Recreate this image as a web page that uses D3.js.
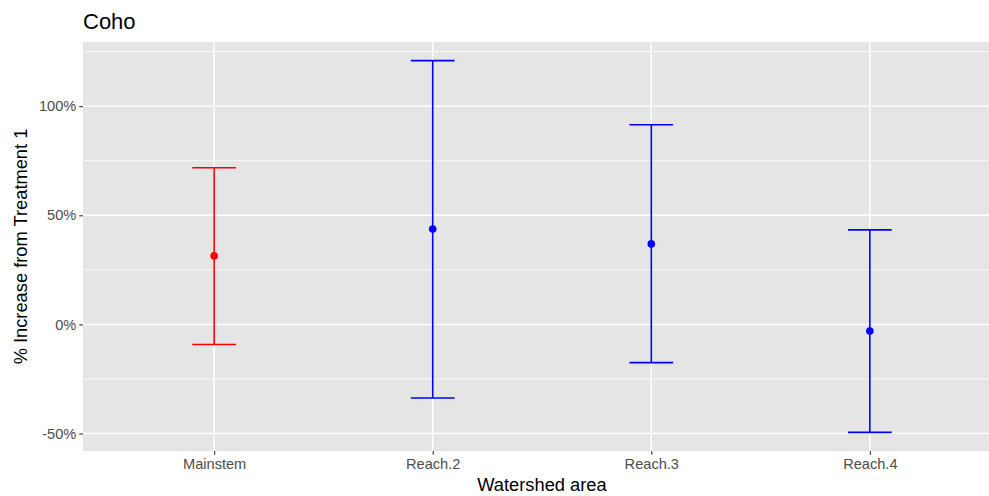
<!DOCTYPE html>
<html>
<head>
<meta charset="utf-8">
<script src="https://cdn.jsdelivr.net/npm/d3@7"></script>
<style>
  html, body { margin: 0; padding: 0; background: #fff; }
  svg { display: block; font-family: "Liberation Sans", Arial, Helvetica, sans-serif; }
</style>
</head>
<body>
<svg id="chart" width="989" height="496"></svg>
<script>
// Estimated % increase from Treatment 1 with interval bounds, per watershed area
const areas  = ["Mainstem", "Reach.2", "Reach.3", "Reach.4"];
const est    = [31.4, 43.7, 36.9, -3.0];
const lower  = [-9.2, -33.7, -17.5, -49.5];
const upper  = [71.8, 120.9, 91.5, 43.3];
const colors = ["#ff0000", "#0000ff", "#0000ff", "#0000ff"];
const yTicks = [-50, 0, 50, 100];
const yMinor = [-25, 25, 75, 125];

const rows = areas.map((a, i) => ({ area: a, est: est[i], lo: lower[i], hi: upper[i], col: colors[i] }));

const svg = d3.select("#chart");
const W = 989, H = 496;
// panel box (right side runs past the canvas edge)
const P = { left: 83, right: 1001, top: 42, bottom: 451 };

// discrete x scale with ggplot-style 0.6 expansion on both sides
const n = areas.length;
const step = (P.right - P.left) / (n - 1 + 1.2);
const x = d3.scalePoint().domain(areas)
  .range([P.left + 0.6 * step, P.right - 0.6 * step]);

// y limits: data range expanded by 5%
const yMin = d3.min(lower), yMax = d3.max(upper);
const pad = (yMax - yMin) * 0.05;
const y = d3.scaleLinear().domain([yMin - pad, yMax + pad]).range([P.bottom, P.top]);

svg.append("defs").append("clipPath").attr("id", "panel")
  .append("rect").attr("x", P.left).attr("y", P.top)
  .attr("width", P.right - P.left).attr("height", P.bottom - P.top);

const g = svg.append("g").attr("clip-path", "url(#panel)");

g.append("rect").attr("x", P.left).attr("y", P.top)
  .attr("width", P.right - P.left).attr("height", P.bottom - P.top)
  .attr("fill", "#e5e5e5");

// minor gridlines
g.selectAll(".ymin").data(yMinor.filter(v => v >= y.domain()[0] && v <= y.domain()[1]))
  .join("line")
  .attr("x1", P.left).attr("x2", P.right)
  .attr("y1", d => y(d)).attr("y2", d => y(d))
  .attr("stroke", "#fff").attr("stroke-width", 0.75);

// major gridlines
g.selectAll(".ymaj").data(yTicks).join("line")
  .attr("x1", P.left).attr("x2", P.right)
  .attr("y1", d => y(d)).attr("y2", d => y(d))
  .attr("stroke", "#fff").attr("stroke-width", 1.5);

g.selectAll(".xmaj").data(areas).join("line")
  .attr("x1", d => x(d)).attr("x2", d => x(d))
  .attr("y1", P.top).attr("y2", P.bottom)
  .attr("stroke", "#fff").attr("stroke-width", 1.5);

// error bars
const capW = step * 0.2;
const eb = g.selectAll(".eb").data(rows).join("g")
  .attr("stroke", d => d.col).attr("stroke-width", 1.6);
eb.append("line")
  .attr("x1", d => x(d.area)).attr("x2", d => x(d.area))
  .attr("y1", d => y(d.lo)).attr("y2", d => y(d.hi));
eb.append("line")
  .attr("x1", d => x(d.area) - capW / 2).attr("x2", d => x(d.area) + capW / 2)
  .attr("y1", d => y(d.hi)).attr("y2", d => y(d.hi));
eb.append("line")
  .attr("x1", d => x(d.area) - capW / 2).attr("x2", d => x(d.area) + capW / 2)
  .attr("y1", d => y(d.lo)).attr("y2", d => y(d.lo));

// point estimates
g.selectAll(".pt").data(rows).join("circle")
  .attr("cx", d => x(d.area)).attr("cy", d => y(d.est))
  .attr("r", 3.8).attr("fill", d => d.col);

// axes
const yAxis = d3.axisLeft(y).tickValues(yTicks).tickSize(3.7).tickPadding(3)
  .tickFormat(d => d + "%");
const ya = svg.append("g").attr("transform", `translate(${P.left},0)`).call(yAxis);
const xAxis = d3.axisBottom(x).tickSize(3.7).tickPadding(3.5);
const xa = svg.append("g").attr("transform", `translate(0,${P.bottom})`).call(xAxis);
[ya, xa].forEach(a => {
  a.select(".domain").remove();
  a.selectAll(".tick line").attr("stroke", "#333").attr("stroke-width", 1.1);
  a.selectAll(".tick text").attr("fill", "#4d4d4d")
    .style("font-size", "14.6px").style("font-family", "Liberation Sans, Arial, sans-serif");
});

// titles
svg.append("text").attr("x", P.left).attr("y", 28.5)
  .attr("fill", "#000").style("font-size", "22px").text("Coho");

svg.append("text").attr("x", (P.left + P.right) / 2).attr("y", 491)
  .attr("text-anchor", "middle").attr("fill", "#000")
  .style("font-size", "18.3px").text("Watershed area");

svg.append("text")
  .attr("transform", `translate(27,${(P.top + P.bottom) / 2}) rotate(-90)`)
  .attr("text-anchor", "middle").attr("fill", "#000")
  .style("font-size", "18.3px").text("% Increase from Treatment 1");
</script>
</body>
</html>
